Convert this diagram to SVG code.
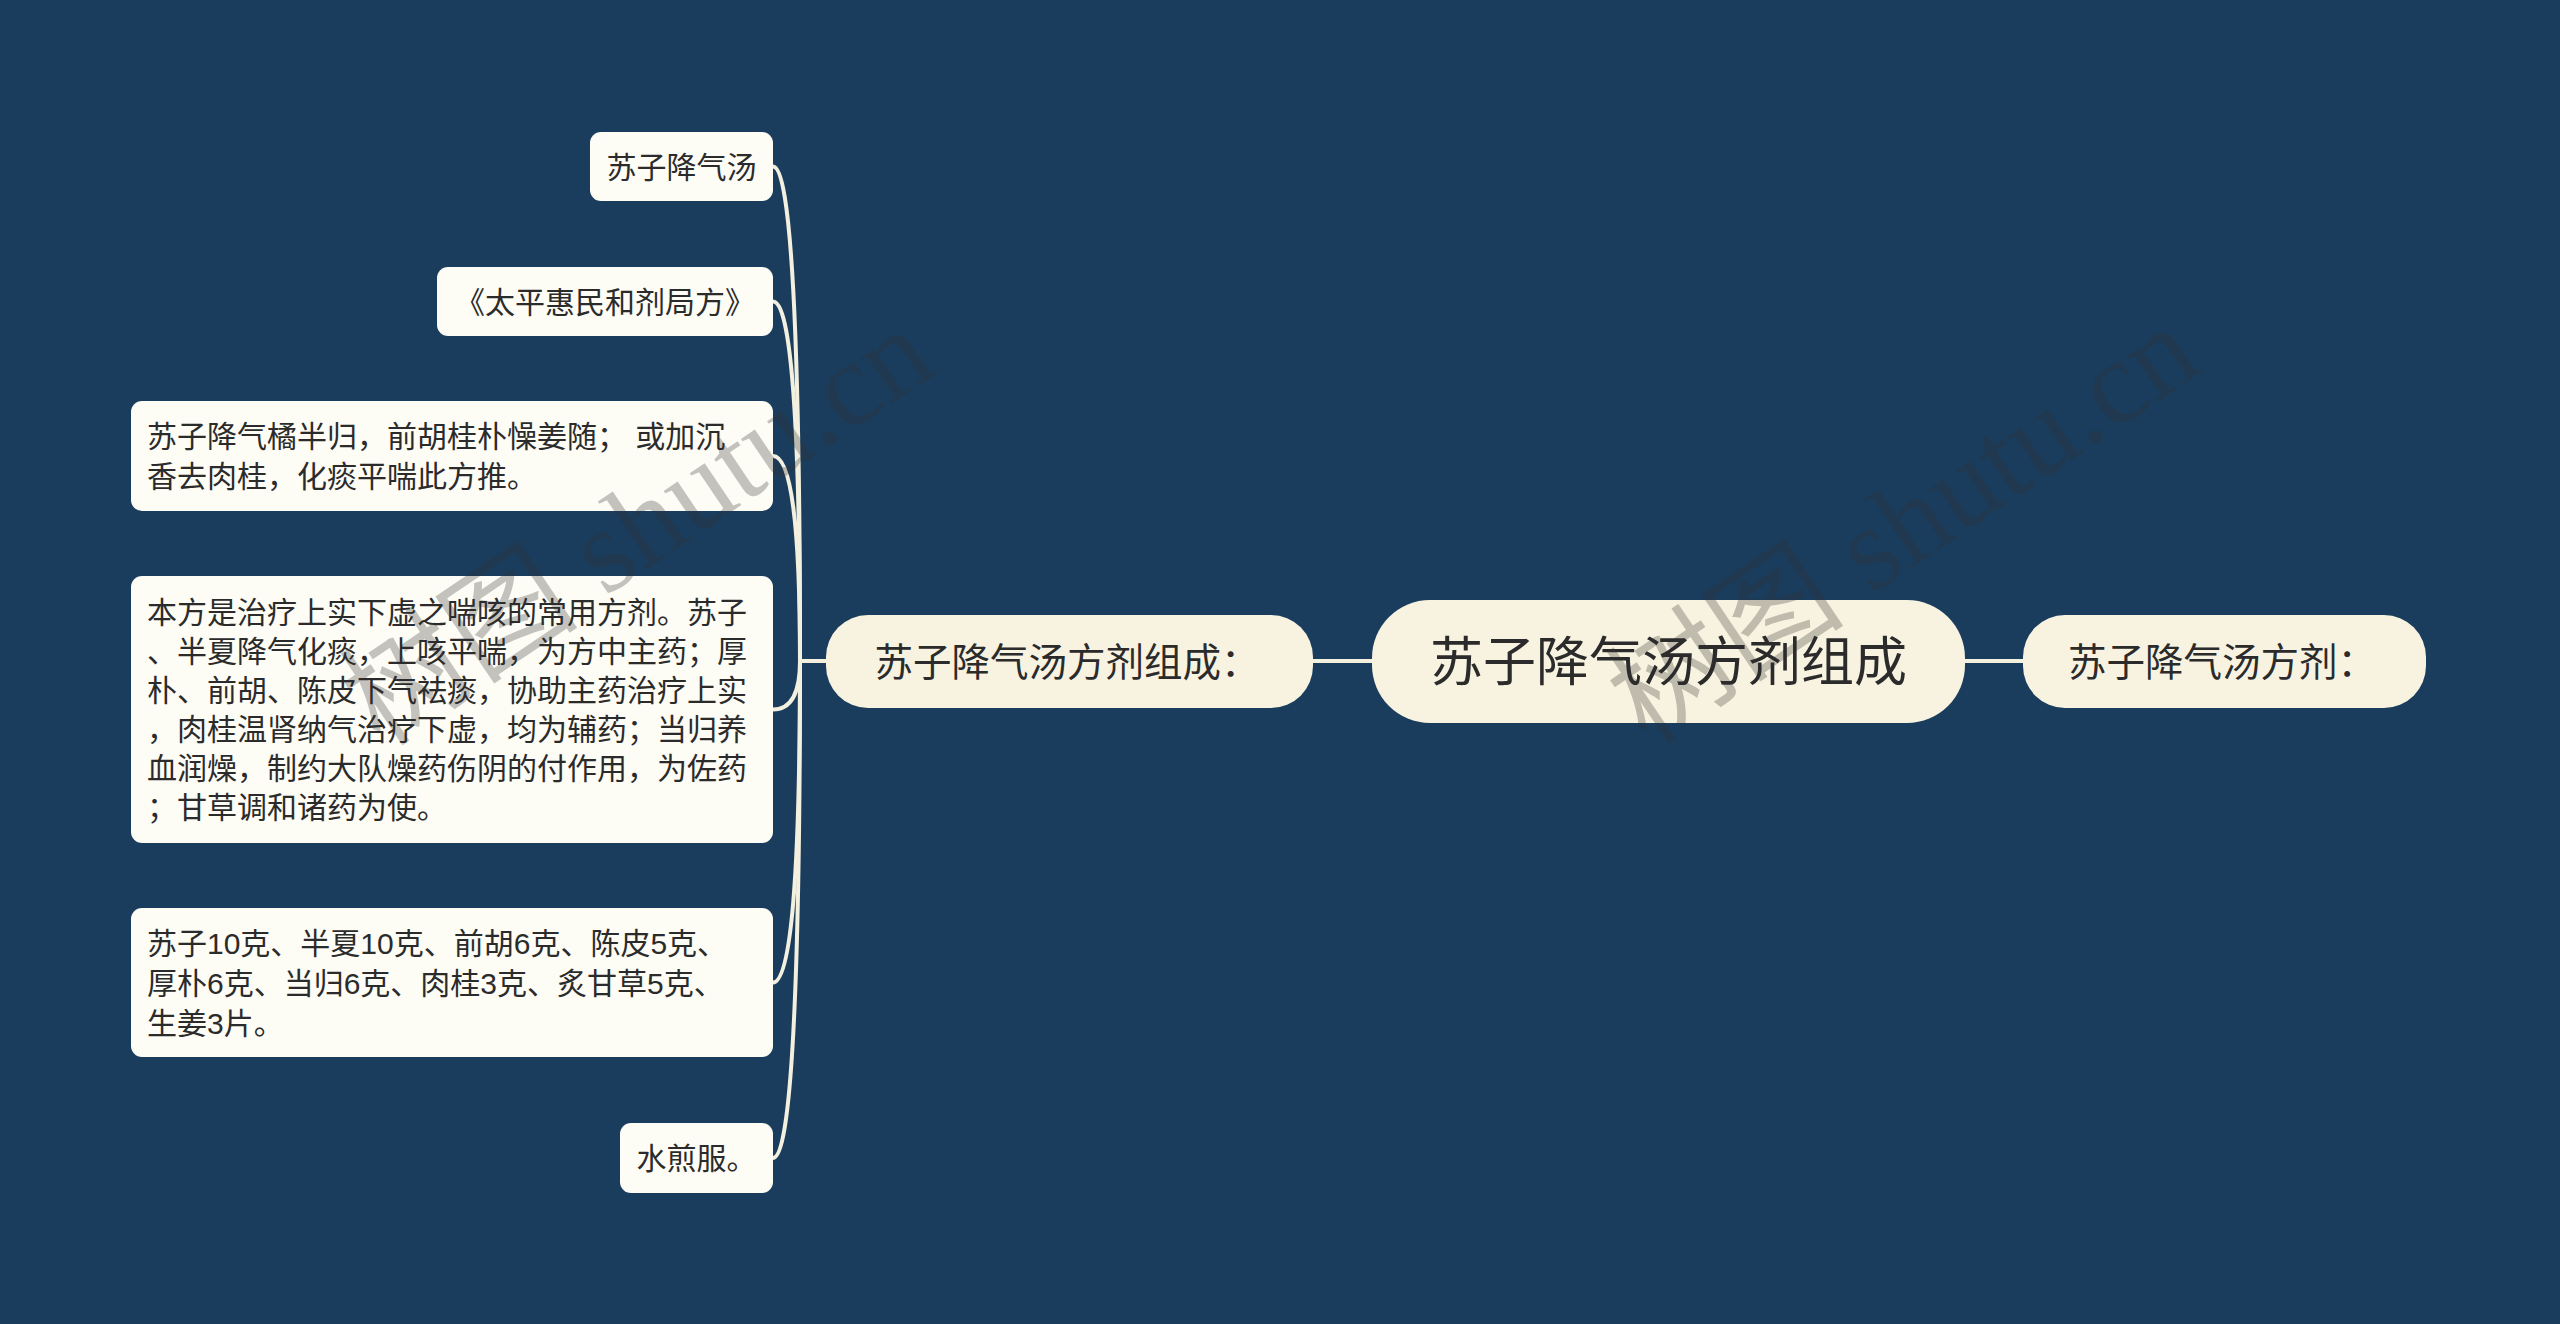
<svg xmlns="http://www.w3.org/2000/svg" width="2560" height="1324" viewBox="0 0 2560 1324">
<style>
.bg{fill:#1a3d5d}
.main{fill:#f7f3e0}
.leaf{fill:#fdfcf5}
.t{font-family:"Liberation Sans","Noto Sans CJK SC",sans-serif;fill:#2b2b2b}
.t30{font-size:30px}
.t38{font-size:38.5px}
.t53{font-size:53px}
.c{text-anchor:middle}
.link{fill:none;stroke:#f3f0e0;stroke-width:4;stroke-linecap:round}
.wm{font-family:"Liberation Serif","Noto Sans CJK SC",serif;font-size:120px;fill:#303030;opacity:0.28;text-anchor:middle}
</style>
<rect class="bg" x="0" y="0" width="2560" height="1324"/>
<g id="connectors">
<path class="link" d="M1313,661 L1372,661"/>
<path class="link" d="M1965,661 L2023,661"/>
<path class="link" d="M800,661 L826,661"/>
<path class="link" d="M800,661 Q800,166.5 773,166.5"/>
<path class="link" d="M800,661 Q800,301.5 773,301.5"/>
<path class="link" d="M800,661 Q800,456 773,456"/>
<path class="link" d="M800,661 Q800,709.5 773,709.5"/>
<path class="link" d="M800,661 Q800,982.5 773,982.5"/>
<path class="link" d="M800,661 Q800,1158 773,1158"/>
</g>
<g id="root">
<rect class="main" x="1372" y="600" width="593" height="123" rx="58"/>
<text class="t t53 c" x="1668.5" y="681">苏子降气汤方剂组成</text>
</g>
<g id="branch-left">
<rect class="main" x="826" y="615" width="487" height="93" rx="42"/>
<text class="t t38 c" x="1067" y="676">苏子降气汤方剂组成：</text>
</g>
<g id="branch-right">
<rect class="main" x="2023" y="615" width="403" height="93" rx="42"/>
<text class="t t38 c" x="2222" y="676">苏子降气汤方剂：</text>
</g>
<g id="leaf1">
<rect class="leaf" x="590" y="132" width="183" height="69" rx="11"/>
<text class="t t30 c" x="681.5" y="178">苏子降气汤</text>
</g>
<g id="leaf2">
<rect class="leaf" x="437" y="267" width="336" height="69" rx="11"/>
<text class="t t30 c" x="605" y="313">《太平惠民和剂局方》</text>
</g>
<g id="leaf3">
<rect class="leaf" x="131" y="401" width="642" height="110" rx="11"/>
<text class="t t30" x="147" y="447">苏子降气橘半归，前胡桂朴懆姜随； 或加沉</text>
<text class="t t30" x="147" y="487">香去肉桂，化痰平喘此方推。</text>
</g>
<g id="leaf4">
<rect class="leaf" x="131" y="576" width="642" height="267" rx="11"/>
<text class="t t30" x="147" y="623">本方是治疗上实下虚之喘咳的常用方剂。苏子</text>
<text class="t t30" x="147" y="662">、半夏降气化痰，上咳平喘，为方中主药；厚</text>
<text class="t t30" x="147" y="701">朴、前胡、陈皮下气祛痰，协助主药治疗上实</text>
<text class="t t30" x="147" y="740">，肉桂温肾纳气治疗下虚，均为辅药；当归养</text>
<text class="t t30" x="147" y="779">血润燥，制约大队燥药伤阴的付作用，为佐药</text>
<text class="t t30" x="147" y="818">；甘草调和诸药为使。</text>
</g>
<g id="leaf5">
<rect class="leaf" x="131" y="908" width="642" height="149" rx="11"/>
<text class="t t30" x="147" y="954">苏子10克、半夏10克、前胡6克、陈皮5克、</text>
<text class="t t30" x="147" y="994">厚朴6克、当归6克、肉桂3克、炙甘草5克、</text>
<text class="t t30" x="147" y="1034">生姜3片。</text>
</g>
<g id="leaf6">
<rect class="leaf" x="620" y="1123" width="153" height="70" rx="11"/>
<text class="t t30 c" x="696.5" y="1169">水煎服。</text>
</g>
<g id="watermark">
<text class="wm" transform="translate(660,560) rotate(-34)">树图 shutu.cn</text>
<text class="wm" transform="translate(1926,558) rotate(-34)">树图 shutu.cn</text>
</g>
</svg>
